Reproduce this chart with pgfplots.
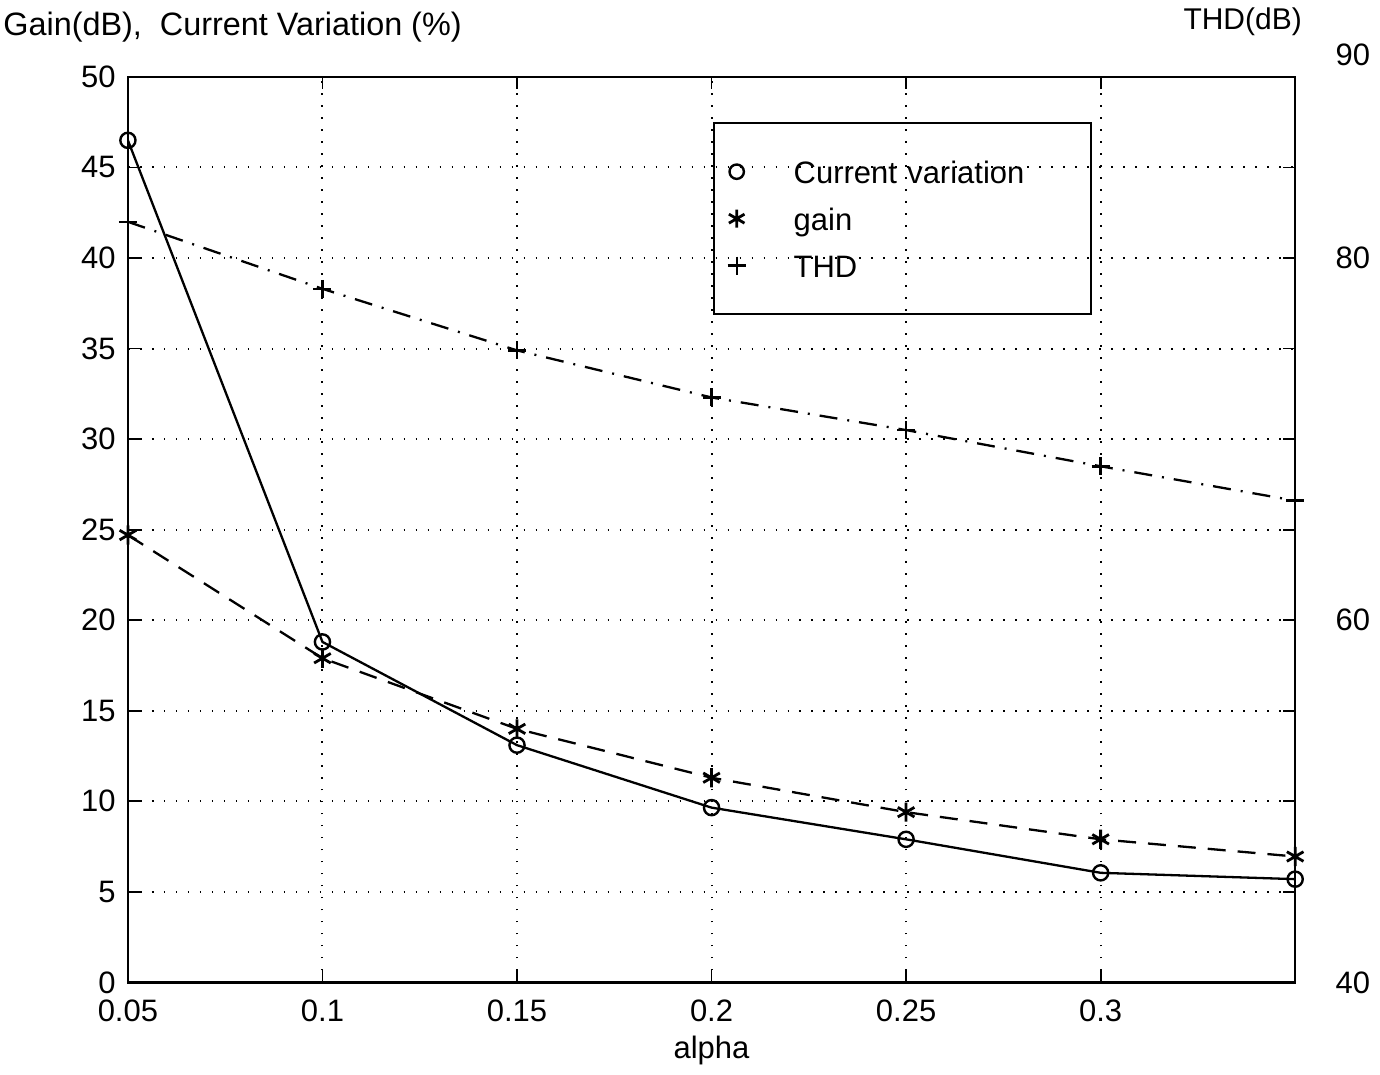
\documentclass[border=0pt]{standalone}
\usepackage{fontspec}
\setmainfont{Liberation Sans}
\usepackage{pgfplots}
\pgfplotsset{compat=1.18}

\begin{document}
\fontsize{15}{18}\selectfont
\begin{tikzpicture}
\pgfplotsset{
  every axis/.append style={
    scale only axis, width=584pt, height=453pt,
    xmin=0.05, xmax=0.35,
    /pgf/number format/assume math mode=true,
    axis line style={line width=1.3pt},
    major tick length=6pt,
    every tick/.style={black, line width=0.9pt},
    tick label style={font=\fontsize{15.5}{18}\selectfont},
  },
}
\begin{axis}[
    ymin=0, ymax=50,
    ytick={0,5,...,50},
    xtick={0.05,0.1,0.15,0.2,0.25,0.3},
    xticklabels={0.05,0.1,0.15,0.2,0.25,0.3},
    xticklabel style={yshift=-3.5pt},
    yticklabel style={xshift=-1pt},
    xlabel={alpha},
    xlabel style={yshift=3pt, font=\fontsize{15.5}{18}\selectfont},
    grid=major,
    major grid style={black, line width=1pt, dash pattern=on 0.8pt off 5.2pt},
    legend style={at={(rel axis cs:0.501,0.950)}, anchor=north west,
      draw=black, line width=1pt, fill=none, inner xsep=7pt, inner ysep=16.25pt,
      row sep=7.5pt, column sep=23pt, cells={anchor=west},
      nodes={text height=13pt, text depth=1pt, inner sep=1pt, text width=141pt,
        font=\fontsize{15.5}{18}\selectfont}},
]
\addplot[black, line width=1.15pt, mark=o, mark size=3.8pt, mark options={line width=1.2pt}, forget plot] coordinates {
  (0.05,46.5) (0.10,18.8) (0.15,13.1) (0.20,9.65) (0.25,7.9) (0.30,6.05) (0.35,5.7)};
\addplot[black, line width=1.15pt, dash pattern=on 9pt off 6pt, mark=asterisk, mark size=4.8pt,
  mark options={solid, line width=1.4pt}, forget plot] coordinates {
  (0.05,24.7) (0.10,17.9) (0.15,14.0) (0.20,11.3) (0.25,9.4) (0.30,7.9) (0.35,6.95)};
\addlegendimage{only marks, black, mark=o, mark size=3.6pt, line width=1.2pt}
\addlegendentry{Current variation}
\addlegendimage{only marks, black, mark=asterisk, mark size=4.5pt, line width=1.4pt}
\addlegendentry{gain}
\addlegendimage{only marks, black, mark=+, mark size=4.5pt, line width=1.2pt}
\addlegendentry{THD}
\coordinate (bl) at (rel axis cs:0,0);
\coordinate (tr) at (rel axis cs:1,1);
\end{axis}
\begin{axis}[
    ymin=40, ymax=90,
    ytick={40,60,80,90},
    yticklabels={40,60,80,\raisebox{22pt}{90}},
    axis y line*=right,
    axis x line=none,
    yticklabel style={xshift=15pt},
]
\addplot[black, line width=1.15pt, dash pattern=on 9pt off 5pt on 1pt off 5pt, mark=+, mark size=4.5pt,
  mark options={solid, line width=1.3pt}] coordinates {
  (0.05,82.0) (0.10,78.3) (0.15,74.9) (0.20,72.3) (0.25,70.5) (0.30,68.5) (0.35,66.6)};
\end{axis}
\node[anchor=west, inner sep=0pt, font=\fontsize{16.2}{19}\selectfont]
  at ([xshift=-62.5pt, yshift=25pt]bl |- tr) {Gain(dB),\ \ Current Variation (\%)};
\node[anchor=east, inner sep=0pt] at ([xshift=3.5pt, yshift=27.5pt]tr)
  {THD(dB)};
\path (bl) ++(-64pt,-40pt) (tr) ++(42pt,38.5pt);
\end{tikzpicture}
\end{document}
